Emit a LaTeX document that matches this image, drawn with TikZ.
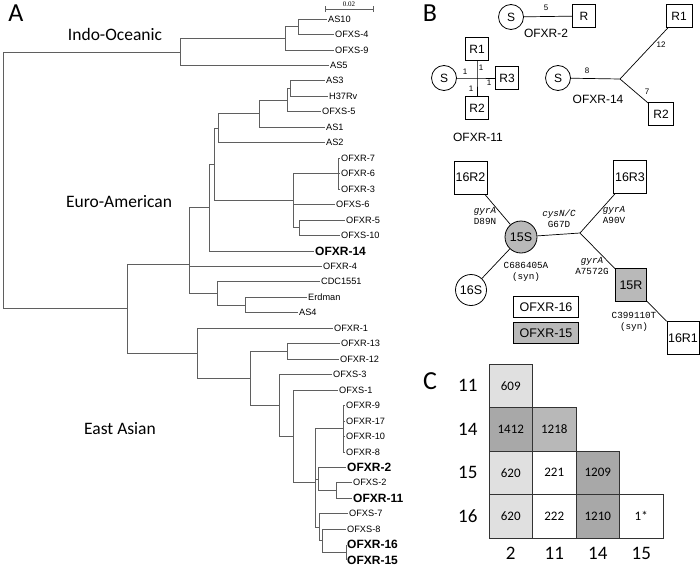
\documentclass[tikz,border=0pt]{standalone}
\usepackage{fontspec}
\setmainfont{Liberation Sans}
\newfontfamily\calibrifont{Carlito}
\newfontfamily\courierfont{Liberation Mono}
\newfontfamily\barfont{Liberation Serif}
\usetikzlibrary{positioning}
\definecolor{TreeGray}{RGB}{95,95,95}
\definecolor{CellLight}{RGB}{224,224,224}
\definecolor{CellMid}{RGB}{184,184,184}
\definecolor{CellDark}{RGB}{168,168,168}
\definecolor{NodeGray}{RGB}{185,185,185}
\tikzset{
  branch/.style={draw=TreeGray, line width=0.7pt},
  leaf/.style={anchor=west, inner sep=1pt, font=\fontsize{9.2}{10}\selectfont},
  leafbold/.style={leaf, font=\bfseries\fontsize{12}{13}\selectfont},
  clade/.style={font=\calibrifont\fontsize{17.5}{20}\selectfont},
  panel/.style={font=\calibrifont\fontsize{26}{28}\selectfont},
  snode/.style={draw, circle, line width=0.8pt, minimum size=25pt, inner sep=0pt, font=\fontsize{12}{13}\selectfont},
  rnode/.style={draw, rectangle, line width=0.8pt, minimum size=23pt, inner sep=0pt, font=\fontsize{12}{13}\selectfont},
  bigs/.style={snode, minimum size=31pt, font=\fontsize{12.5}{14}\selectfont},
  bigr/.style={rnode, minimum size=33pt, font=\fontsize{12.5}{14}\selectfont},
  link/.style={line width=0.7pt},
  wt/.style={inner sep=1pt, font=\fontsize{8}{9}\selectfont},
  blabel/.style={font=\fontsize{12}{13}\selectfont},
  mut/.style={inner sep=0pt, align=center, font=\courierfont\fontsize{9.3}{11}\selectfont},
  legendbox/.style={draw, line width=0.7pt, minimum width=65pt, minimum height=21pt, inner sep=0pt, font=\fontsize{12.5}{14}\selectfont},
  cell/.style={draw=black!80, line width=0.7pt, minimum width=43.5pt, minimum height=43.5pt, inner sep=0pt, font=\calibrifont\fontsize{13}{14}\selectfont},
  axlab/.style={inner sep=1pt, font=\calibrifont\fontsize{19}{21}\selectfont}
}

\begin{document}
\begin{tikzpicture}[x=1pt, y=-1pt]
  \useasboundingbox (0,0) rectangle (700,567);

  % ---------- A: tree ----------
  \node[panel] (pA) at (16,13) {A};

  % leaves
  \foreach \n/\x/\y/\t in {as10/327/19.0/AS10, ofxs4/334/34.5/OFXS-4, ofxs9/334/49.9/OFXS-9,
      as5/329/65.4/AS5, as3/325/80.8/AS3, h37rv/328/96.3/H37Rv, ofxs5/321/111.8/OFXS-5,
      as1/325/127.2/AS1, as2/325/142.7/AS2, ofxr7/340/158.1/OFXR-7, ofxr6/340/173.6/OFXR-6,
      ofxr3/340/189.1/OFXR-3, ofxs6/335/204.5/OFXS-6, ofxr5/345/220.0/OFXR-5,
      ofxs10/340/235.4/OFXS-10, ofxr4/322/266.4/OFXR-4, cdc/320/281.8/CDC1551,
      erdman/307/297.3/Erdman, as4/298/312.7/AS4, ofxr1/333/328.2/OFXR-1,
      ofxr13/340/343.7/OFXR-13, ofxr12/339/359.1/OFXR-12, ofxs3/332/374.6/OFXS-3,
      ofxs1/338/390.0/OFXS-1, ofxr9/345/405.5/OFXR-9, ofxr17/345/421.0/OFXR-17,
      ofxr10/345/436.4/OFXR-10, ofxr8/345/451.9/OFXR-8, ofxs2/352/482.8/OFXS-2,
      ofxs7/348/513.7/OFXS-7, ofxs8/346/529.2/OFXS-8}
    \node[leaf] (\n) at (\x,\y) {\t};
  \foreach \n/\x/\y/\t in {ofxr14/314/250.9/OFXR-14, ofxr2/346/467.3/OFXR-2,
      ofxr11/352/498.3/OFXR-11, ofxr16/346/544.6/OFXR-16, ofxr15/346/560.1/OFXR-15}
    \node[leafbold] (\n) at (\x,\y) {\t};

  % inner nodes
  \coordinate (root) at (3,180);
  \coordinate (io) at (180,51.9);
  \coordinate (io1) at (285,38.3);
  \coordinate (ioa) at (298,26.8);
  \coordinate (eu) at (127,308.7);
  \coordinate (ea) at (189,264);
  \coordinate (ab14) at (209,207.7);
  \coordinate (ab) at (214,164.4);
  \coordinate (a4) at (218,128.2);
  \coordinate (a3) at (259,113.7);
  \coordinate (a2) at (287,100.2);
  \coordinate (a1) at (290,88.5);
  \coordinate (b3) at (293,200.6);
  \coordinate (b1) at (338,173.6);
  \coordinate (b2) at (299,227.7);
  \coordinate (c2) at (217,293.4);
  \coordinate (c1) at (245,305);
  \coordinate (ee) at (197,353.2);
  \coordinate (e10) at (250,378.3);
  \coordinate (e1) at (287,351.4);
  \coordinate (e9) at (279,405.3);
  \coordinate (e8) at (293,436);
  \coordinate (e2) at (315,482);
  \coordinate (e3) at (343,428.7);
  \coordinate (e4) at (318,478.9);
  \coordinate (e4b) at (336,490.5);
  \coordinate (e5) at (319,527.3);
  \coordinate (e6) at (322,540.8);
  \coordinate (e7) at (346,552.4);

  % branches
  \foreach \p/\c in {root/io, root/eu, io/io1, io/as5, io1/ioa, io1/ofxs9, ioa/as10, ioa/ofxs4,
      eu/ea, eu/ee, ea/ab14, ea/ofxr4, ea/c2, ab14/ab, ab14/ofxr14, ab/a4, ab/b3,
      a4/a3, a4/as2, a3/a2, a3/as1, a2/a1, a2/ofxs5, a1/as3, a1/h37rv,
      b3/b1, b3/ofxs6, b3/b2, b1/ofxr7, b1/ofxr6, b1/ofxr3, b2/ofxr5, b2/ofxs10,
      c2/cdc, c2/c1, c1/erdman, c1/as4,
      ee/ofxr1, ee/e10, e10/e1, e10/e9, e1/ofxr13, e1/ofxr12, e9/ofxs3, e9/e8,
      e8/ofxs1, e8/e2, e2/e3, e2/e4, e2/e5, e3/ofxr9, e3/ofxr17, e3/ofxr10, e3/ofxr8,
      e4/ofxr2, e4/e4b, e4b/ofxs2, e4b/ofxr11, e5/ofxs7, e5/e6, e6/ofxs8, e6/e7,
      e7/ofxr16, e7/ofxr15}
    \draw[branch] (\p) |- (\c);

  % scale bar
  \coordinate (sb1) at (325,9);
  \coordinate (sb2) at (373,9);
  \draw[branch] (sb1) -- (sb2);
  \draw[branch] ([yshift=-3pt]sb1) -- ([yshift=3pt]sb1);
  \draw[branch] ([yshift=-3pt]sb2) -- ([yshift=3pt]sb2);
  \node[inner sep=0pt, font=\barfont\fontsize{7}{8}\selectfont] (sbl) at (349,4) {0.02};

  % clade names
  \node[clade] (indo) at (115,34) {Indo-Oceanic};
  \node[clade] (euro) at (119,202) {Euro-American};
  \node[clade] (east) at (120,429) {East Asian};

  % ---------- B: networks ----------
  \node[panel] (pB) at (430,13) {B};

  % OFXR-2
  \node[snode] (s2) at (511,17) {S};
  \node[rnode] (r2) at (584,16) {R};
  \draw[link] (s2) -- (r2);
  \node[wt] (w2) at (546,8) {5};
  \node[blabel] (l2) at (546,33) {OFXR-2};

  % OFXR-11
  \coordinate (j11) at (477,78);
  \node[snode] (s11) at (444,78) {S};
  \node[rnode] (r11a) at (477,49) {R1};
  \node[rnode] (r11c) at (507,78) {R3};
  \node[rnode] (r11b) at (477,108) {R2};
  \draw[link] (s11) -- (j11) -- (r11c);
  \draw[link] (r11a) -- (j11) -- (r11b);
  \node[wt] (w11s) at (465,72) {1};
  \node[wt] (w11a) at (481,68) {1};
  \node[wt] (w11c) at (489,83) {1};
  \node[wt] (w11b) at (471,89) {1};
  \node[blabel] (l11) at (478,137) {OFXR-11};

  % OFXR-14
  \coordinate (j14) at (620,79);
  \node[snode] (s14) at (558,78) {S};
  \node[rnode, minimum width=26pt] (r14a) at (679,16) {R1};
  \node[rnode, minimum width=25pt] (r14b) at (661,114) {R2};
  \draw[link] (s14) -- (j14) -- (r14a);
  \draw[link] (j14) -- (r14b);
  \node[wt] (w14s) at (587,71) {8};
  \node[wt] (w14a) at (661,45) {12};
  \node[wt] (w14b) at (647,92) {7};
  \node[blabel] (l14) at (598,99) {OFXR-14};

  % OFXR-15 / OFXR-16
  \coordinate (j15) at (580,233);
  \node[bigr] (r16b) at (470.5,177.5) {16R2};
  \node[bigr] (r16c) at (630,177) {16R3};
  \node[bigs, fill=NodeGray, minimum size=32pt] (s15) at (521,237) {15S};
  \node[bigs] (s16) at (471,290) {16S};
  \node[bigr, fill=NodeGray, minimum width=31pt] (r15) at (631,285) {15R};
  \node[bigr, minimum width=32pt] (r16a) at (683,338) {16R1};
  \draw[link] (r16b) -- (s15) -- (j15) -- (r16c);
  \draw[link] (j15) -- (r15) -- (r16a);
  \draw[link] (s15) -- (s16);
  \node[mut] (m1) at (485,215.5) {\itshape gyrA\\D89N};
  \node[mut] (m2) at (559,218.5) {\itshape cysN/C\\G67D};
  \node[mut] (m3) at (614,215) {\itshape gyrA\\A90V};
  \node[mut] (m4) at (592,266) {\itshape gyrA\\A7572G};
  \node[mut] (m5) at (526,272) {C686405A\\(syn)};
  \node[mut] (m6) at (634,322) {C399110T\\(syn)};
  \node[legendbox] (lg16) at (546,307) {OFXR-16};
  \node[legendbox, fill=NodeGray] (lg15) at (546,333) {OFXR-15};

  % ---------- C: distance matrix ----------
  \node[panel] (pC) at (430,381) {C};
  \node[cell, fill=CellLight] (c11x2) at (510.75,385.75) {609};
  \node[cell, fill=CellDark] (c14x2) at (510.75,429.25) {1412};
  \node[cell, fill=CellMid] (c14x11) at (554.25,429.25) {1218};
  \node[cell, fill=CellLight] (c15x2) at (510.75,472.75) {620};
  \node[cell, fill=white] (c15x11) at (554.25,472.75) {221};
  \node[cell, fill=CellDark] (c15x14) at (597.75,472.75) {1209};
  \node[cell, fill=CellLight] (c16x2) at (510.75,516.25) {620};
  \node[cell, fill=white] (c16x11) at (554.25,516.25) {222};
  \node[cell, fill=CellDark] (c16x14) at (597.75,516.25) {1210};
  \node[cell, fill=white] (c16x15) at (641.25,516.25) {1*};

  \node[axlab, left=10pt of c11x2] (row11) {11};
  \node[axlab, left=10pt of c14x2] (row14) {14};
  \node[axlab, left=10pt of c15x2] (row15) {15};
  \node[axlab, left=10pt of c16x2] (row16) {16};
  \node[axlab, below=8pt of c16x2] (col2) {2};
  \node[axlab, below=8pt of c16x11] (col11) {11};
  \node[axlab, below=8pt of c16x14] (col14) {14};
  \node[axlab, below=8pt of c16x15] (col15) {15};
\end{tikzpicture}
\end{document}
